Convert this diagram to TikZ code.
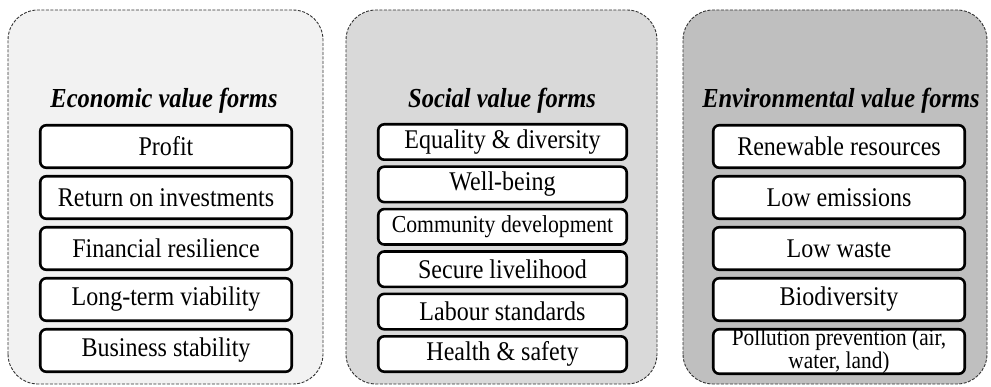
\documentclass[tikz,border=0pt]{standalone}
\usepackage{fontspec}
\setmainfont{Liberation Serif}[FakeStretch=0.89]
\usetikzlibrary{positioning}

\definecolor{econfill}{HTML}{F2F2F2}
\definecolor{socfill}{HTML}{D9D9D9}
\definecolor{envfill}{HTML}{BFBFBF}

\tikzset{
    panel/.style={
        line width=0.9pt,
        dash pattern=on 3pt off 1.5pt,
        draw=black!80,
        rounded corners=30pt
    },
    formtitle/.style={
        anchor=base,
        font=\fontsize{27.5}{30}\selectfont\bfseries\itshape
    },
    formbox/.style={
        draw,
        line width=2.6pt,
        rounded corners=6pt,
        fill=white,
        inner sep=0pt,
        minimum width=251.5pt,
        minimum height=42.5pt,
        align=center,
        font=\fontsize{27}{30}\selectfont
    },
    socbox/.style={
        formbox,
        minimum width=248.5pt,
        minimum height=35.4pt
    }
}

\begin{document}
\begin{tikzpicture}[x=1pt, y=1pt]
                \useasboundingbox (0,0) rectangle (991,386);

                % the three value panels
                \draw[panel, fill=econfill] (8,2) rectangle (323,376);
                \draw[panel, fill=socfill] (346,2) rectangle (657,376);
                \draw[panel, fill=envfill] (683,2) rectangle (987,376);

                % economic
                \node[formtitle] (econtitle) at (164,278) {Economic value forms};
                \node[formbox] (econ1) at (166,239.5) {Profit};
                \node[formbox, below=5.9pt of econ1] (econ2) {Return on investments};
                \node[formbox, below=5.9pt of econ2] (econ3) {Financial resilience};
                \node[formbox, below=5.9pt of econ3] (econ4) {Long-term viability};
                \node[formbox, below=5.9pt of econ4] (econ5) {Business stability};

                % social
                \node[formtitle] (soctitle) at (502,278) {Social value forms};
                \node[socbox] (soc1) at (502.5,244) {Equality \& diversity};
                \node[socbox, below=4.4pt of soc1] (soc2) {Well-being};
                \node[socbox, below=4.4pt of soc2,
                    font=\fontsize{24.4}{26}\selectfont] (soc3) {Community development};
                \node[socbox, below=4.4pt of soc3] (soc4) {Secure livelihood};
                \node[socbox, below=4.4pt of soc4] (soc5) {Labour standards};
                \node[socbox, below=4.4pt of soc5] (soc6) {Health \& safety};

                % environmental
                \node[formtitle] (envtitle) at (841,278) {Environmental value forms};
                \node[formbox] (env1) at (839,239.5) {Renewable resources};
                \node[formbox, below=5.9pt of env1] (env2) {Low emissions};
                \node[formbox, below=5.9pt of env2] (env3) {Low waste};
                \node[formbox, below=5.9pt of env3] (env4) {Biodiversity};
                \node[formbox, below=5.9pt of env4,
                    font=\fontsize{24}{20.5}\selectfont] (env5) {Pollution prevention (air,\\ water, land)};

            \end{tikzpicture}
\end{document}
